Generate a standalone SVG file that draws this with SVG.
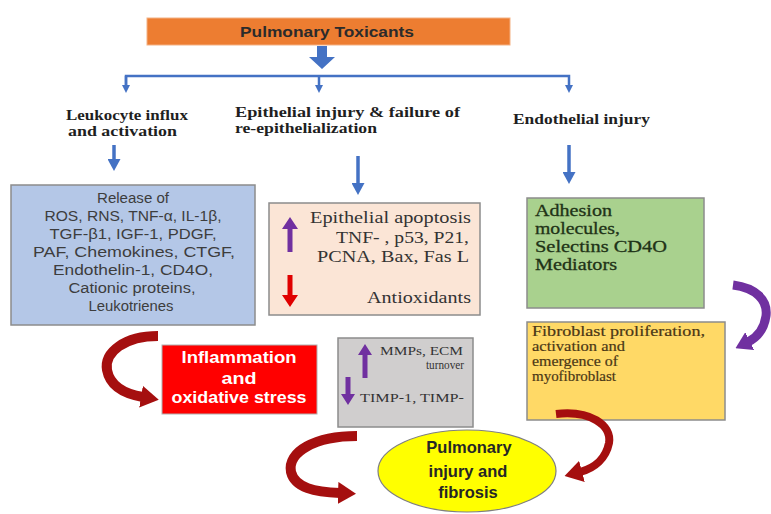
<svg xmlns="http://www.w3.org/2000/svg" width="771" height="514" viewBox="0 0 771 514">
<style>
.box{stroke:#8c8c8c;stroke-width:1.5}
.hdr{font-family:"Liberation Serif",serif;font-weight:bold;font-size:15px;fill:#1f1f1f}
.bl{font-family:"Liberation Sans",sans-serif;font-size:14px;fill:#3d3d3d;text-anchor:middle}
.ser{font-family:"Liberation Serif",serif;font-size:17px;fill:#333333}
.grn{font-family:"Liberation Serif",serif;font-size:16.5px;fill:#1f3317;stroke:#1f3317;stroke-width:0.3}
.fib{font-family:"Liberation Serif",serif;font-size:15px;fill:#4a3716;stroke:#4a3716;stroke-width:0.2}
.gry{font-family:"Liberation Serif",serif;font-size:12px;fill:#333333}
.wht{font-family:"Liberation Sans",sans-serif;font-size:16px;font-weight:bold;fill:#ffffff;text-anchor:middle}
.ell{font-family:"Liberation Sans",sans-serif;font-size:16.5px;font-weight:bold;fill:#262626;text-anchor:middle}
.conn{fill:none;stroke:#4472c4;stroke-width:2.5}
.bar{fill:none;stroke:#4472c4;stroke-width:3.5}
.red{fill:none;stroke:#a50f0f;stroke-width:10}
.pur{fill:none;stroke:#7030a0;stroke-width:9}
</style>
<defs>
<marker id="sm" markerUnits="userSpaceOnUse" viewBox="0 0 8 8" markerWidth="8" markerHeight="8" refX="1" refY="4" orient="auto"><path d="M0,0 L8,4 L0,8 z" fill="#4472c4"/></marker>
<marker id="bh" markerUnits="userSpaceOnUse" viewBox="0 0 12 13" markerWidth="12" markerHeight="13" refX="1" refY="6.5" orient="auto"><path d="M0,0 L12,6.5 L0,13 z" fill="#4472c4"/></marker>
<marker id="rh" markerUnits="userSpaceOnUse" viewBox="0 0 18 22" markerWidth="18" markerHeight="22" refX="2" refY="11" orient="auto"><path d="M0,0 L18,11 L0,22 z" fill="#a50f0f"/></marker>
<marker id="ph" markerUnits="userSpaceOnUse" viewBox="0 0 16 20" markerWidth="16" markerHeight="20" refX="2" refY="10" orient="auto"><path d="M0,0 L16,10 L0,20 z" fill="#7030a0"/></marker>
</defs>
<rect width="771" height="514" fill="#ffffff"/>

<g id="toxicants">
<rect x="147" y="18" width="363" height="27" fill="#ed7d31" stroke="#f4b183" stroke-width="1"/>
<text x="327" y="37" font-family="Liberation Sans, sans-serif" font-size="14" font-weight="bold" fill="#2b2b2b" text-anchor="middle" textLength="174" lengthAdjust="spacingAndGlyphs">Pulmonary Toxicants</text>
</g>

<g id="leukocyte-label">
<text class="hdr" x="66" y="120" textLength="122" lengthAdjust="spacingAndGlyphs">Leukocyte influx</text>
<text class="hdr" x="68" y="136" textLength="109" lengthAdjust="spacingAndGlyphs">and activation</text>
</g>
<g id="epithelial-label">
<text class="hdr" x="235" y="117" textLength="225" lengthAdjust="spacingAndGlyphs">Epithelial injury &amp; failure of</text>
<text class="hdr" x="235" y="133" textLength="142" lengthAdjust="spacingAndGlyphs">re-epithelialization</text>
</g>
<g id="endothelial-label">
<text class="hdr" x="513" y="124" textLength="137" lengthAdjust="spacingAndGlyphs">Endothelial injury</text>
</g>

<g id="release">
<rect class="box" x="11" y="185" width="244" height="140" fill="#b4c7e7"/>
<text class="bl" x="133" y="203" textLength="72" lengthAdjust="spacingAndGlyphs">Release of</text>
<text class="bl" x="133" y="221" textLength="177" lengthAdjust="spacingAndGlyphs">ROS, RNS, TNF-α, IL-1β,</text>
<text class="bl" x="133" y="239" textLength="167" lengthAdjust="spacingAndGlyphs">TGF-β1, IGF-1, PDGF,</text>
<text class="bl" x="134" y="257" textLength="202" lengthAdjust="spacingAndGlyphs">PAF, Chemokines, CTGF,</text>
<text class="bl" x="133" y="275" textLength="160" lengthAdjust="spacingAndGlyphs">Endothelin-1, CD4O,</text>
<text class="bl" x="132" y="293" textLength="127" lengthAdjust="spacingAndGlyphs">Cationic proteins,</text>
<text class="bl" x="131" y="311" textLength="85" lengthAdjust="spacingAndGlyphs">Leukotrienes</text>
</g>

<g id="epithelial-apoptosis">
<rect class="box" x="269" y="203" width="211" height="112" fill="#fbe5d6"/>
<text class="ser" x="471" y="223" text-anchor="end" textLength="161" lengthAdjust="spacingAndGlyphs">Epithelial apoptosis</text>
<text class="ser" x="469" y="243" text-anchor="end" textLength="133" lengthAdjust="spacingAndGlyphs">TNF- , p53, P21,</text>
<text class="ser" x="469" y="262" text-anchor="end" textLength="152" lengthAdjust="spacingAndGlyphs">PCNA, Bax, Fas L</text>
<text class="ser" x="471" y="303" text-anchor="end" textLength="104" lengthAdjust="spacingAndGlyphs">Antioxidants</text>
<path d="M287.5,252 V229 H282 L290,217 L298,229 H292.5 V252 z" fill="#7030a0"/>
<path d="M287.5,275 V295 H282 L290,307 L298,295 H292.5 V275 z" fill="#e00000"/>
</g>

<g id="adhesion">
<rect class="box" x="527" y="198" width="177" height="110" fill="#a9d18e"/>
<text class="grn" x="535" y="216" textLength="77" lengthAdjust="spacingAndGlyphs">Adhesion</text>
<text class="grn" x="535" y="234" textLength="85" lengthAdjust="spacingAndGlyphs">molecules,</text>
<text class="grn" x="535" y="252" textLength="132" lengthAdjust="spacingAndGlyphs">Selectins CD4O</text>
<text class="grn" x="535" y="270" textLength="82" lengthAdjust="spacingAndGlyphs">Mediators</text>
</g>

<g id="inflammation">
<rect x="162" y="345" width="155" height="69" fill="#ff0000" stroke="#b0b0b0" stroke-width="1"/>
<text class="wht" x="239" y="363" textLength="115" lengthAdjust="spacingAndGlyphs">Inflammation</text>
<text class="wht" x="239" y="384" textLength="35" lengthAdjust="spacingAndGlyphs">and</text>
<text class="wht" x="239" y="403" textLength="135" lengthAdjust="spacingAndGlyphs">oxidative  stress</text>
</g>

<g id="mmps">
<rect class="box" x="338" y="338" width="135" height="89" fill="#d0cece"/>
<text class="gry" x="380" y="355" textLength="83" lengthAdjust="spacingAndGlyphs">MMPs, ECM</text>
<text class="gry" x="464" y="369" text-anchor="end" textLength="38" lengthAdjust="spacingAndGlyphs">turnover</text>
<text class="gry" x="360" y="402" textLength="104" lengthAdjust="spacingAndGlyphs">TIMP-1, TIMP-</text>
<path d="M362.5,378 V355 H358 L365,344 L372,355 H367.5 V378 z" fill="#7030a0"/>
<path d="M345.5,377 V394 H341 L348,405 L355,394 H350.5 V377 z" fill="#7030a0"/>
</g>

<g id="fibroblast">
<rect class="box" x="527" y="322" width="198" height="98" fill="#ffd966"/>
<text class="fib" x="532" y="336" textLength="173" lengthAdjust="spacingAndGlyphs">Fibroblast proliferation,</text>
<text class="fib" x="532" y="351" textLength="93" lengthAdjust="spacingAndGlyphs">activation  and</text>
<text class="fib" x="532" y="366" textLength="86" lengthAdjust="spacingAndGlyphs">emergence  of</text>
<text class="fib" x="532" y="381" textLength="84" lengthAdjust="spacingAndGlyphs">myofibroblast</text>
</g>

<g id="fibrosis">
<ellipse cx="467" cy="471" rx="89" ry="41" fill="#ffff00" stroke="#7f7f7f" stroke-width="1.2"/>
<text class="ell" x="469" y="453">Pulmonary</text>
<text class="ell" x="468" y="477">injury and</text>
<text class="ell" x="468" y="498">fibrosis</text>
</g>

<g id="connectors">
<path d="M317,46 H327 V57 H335 L322,69 L309,57 H317 z" fill="#4472c4"/>
<path class="conn" d="M126,86 V76 H569 V86" marker-end="url(#sm)"/>
<path class="conn" d="M319,76 V86" marker-end="url(#sm)"/>
<path class="conn" d="M126,76 V86" marker-end="url(#sm)"/>
<path class="bar" d="M114,145 V160" marker-end="url(#bh)"/>
<path class="bar" d="M358,156 V184" marker-end="url(#bh)"/>
<path class="bar" d="M569,145 V173" marker-end="url(#bh)"/>
<path class="red" d="M158,336 C125,336 104,352 107,370 C110,386 125,394 143,397" marker-end="url(#rh)"/>
<path class="red" d="M357,436 C315,436 287,452 291,472 C295,488 315,492 340,493" marker-end="url(#rh)"/>
<path class="red" style="stroke-width:8" d="M556,414 C590,410 612,425 609,443 C606,458 595,468 580,472" marker-end="url(#rh)"/>
<path class="pur" d="M733,285 C756,288 768,300 766,316 C764,330 756,338 748,342" marker-end="url(#ph)"/>
</g>
</svg>
